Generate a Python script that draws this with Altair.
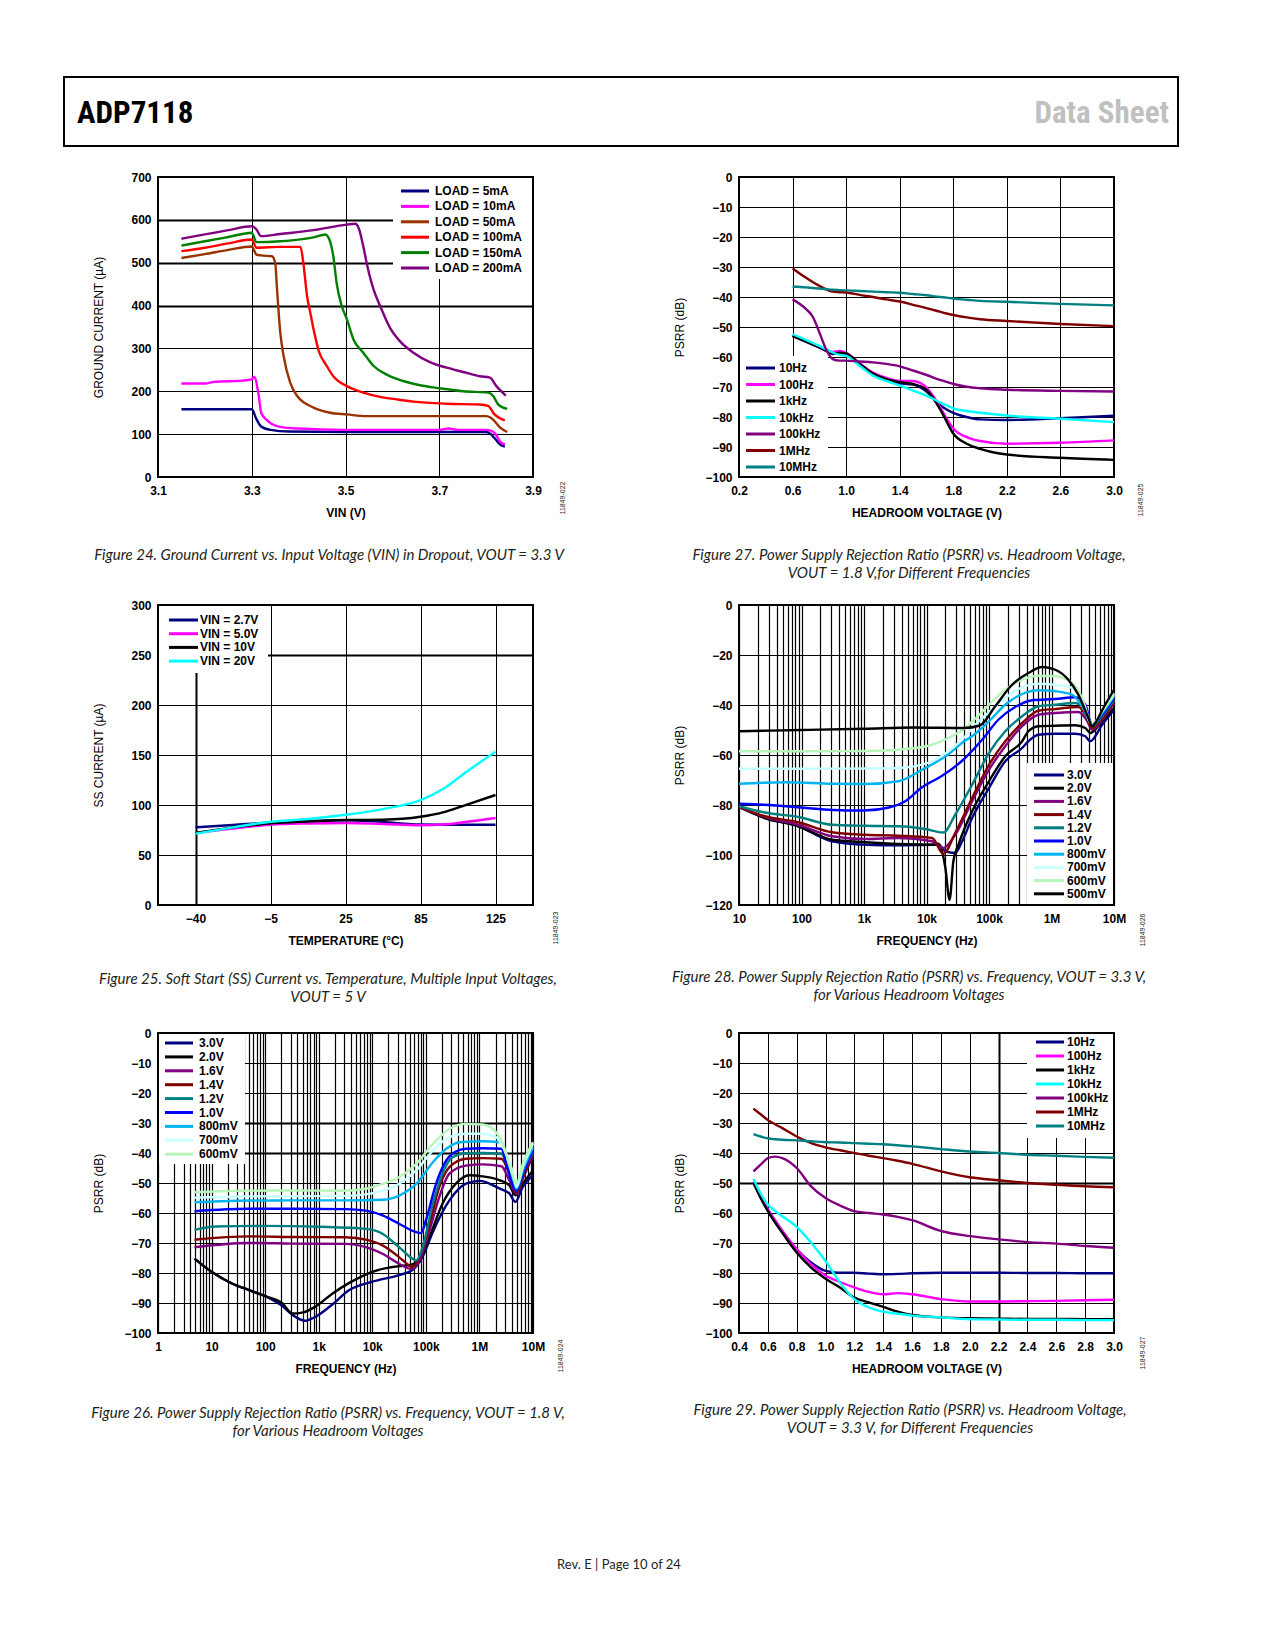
import altair as alt
import pandas as pd

# ======================= DATA =======================
# ---- Figure 24: ground current (uA) vs VIN (V) ----
fig24_series = ["LOAD = 5mA", "LOAD = 10mA", "LOAD = 50mA", "LOAD = 100mA", "LOAD = 150mA", "LOAD = 200mA"]
fig24_xticks = [3.1, 3.3, 3.5, 3.7, 3.9]
fig24_yticks = [0, 100, 200, 300, 400, 500, 600, 700]
load5_vin = [3.15, 3.30, 3.31, 3.32, 3.34, 3.38, 3.50, 3.70, 3.80, 3.81, 3.82, 3.83, 3.84]
load5_ig = [158, 158, 135, 118, 110, 106, 105, 105, 105, 100, 88, 76, 71]
load10_vin = [3.15, 3.20, 3.22, 3.28, 3.30, 3.305, 3.315, 3.32, 3.333, 3.36, 3.40, 3.50, 3.70, 3.72, 3.74, 3.80, 3.81, 3.82, 3.83, 3.84]
load10_ig = [218, 218, 222, 225, 228, 234, 189, 150, 132, 117, 113, 110, 110, 113, 110, 110, 108, 100, 82, 76]
load50_vin = [3.15, 3.20, 3.25, 3.30, 3.31, 3.32, 3.343, 3.35, 3.354, 3.361, 3.368, 3.382, 3.397, 3.432, 3.467, 3.503, 3.545, 3.70, 3.80, 3.815, 3.83, 3.845]
load50_ig = [511, 520, 530, 538, 519, 517, 515, 500, 437, 336, 282, 220, 189, 162, 150, 146, 142, 142, 142, 134, 115, 105]
load100_vin = [3.15, 3.20, 3.25, 3.30, 3.31, 3.36, 3.404, 3.41, 3.418, 3.425, 3.432, 3.443, 3.46, 3.474, 3.503, 3.538, 3.574, 3.61, 3.645, 3.716, 3.787, 3.804, 3.818, 3.84]
load100_ig = [527, 535, 545, 554, 535, 537, 537, 500, 422, 383, 344, 294, 259, 235, 212, 197, 187, 181, 176, 171, 169, 166, 146, 132]
load150_vin = [3.15, 3.20, 3.25, 3.30, 3.31, 3.361, 3.432, 3.457, 3.467, 3.474, 3.481, 3.492, 3.503, 3.517, 3.538, 3.56, 3.588, 3.623, 3.659, 3.701, 3.751, 3.804, 3.815, 3.826, 3.845]
load150_ig = [540, 550, 560, 570, 548, 550, 559, 566, 550, 515, 453, 399, 368, 321, 290, 259, 239, 224, 214, 207, 200, 197, 189, 169, 159]
load200_vin = [3.15, 3.20, 3.25, 3.30, 3.309, 3.32, 3.361, 3.432, 3.503, 3.521, 3.528, 3.538, 3.545, 3.56, 3.574, 3.595, 3.616, 3.645, 3.68, 3.716, 3.751, 3.787, 3.808, 3.822, 3.842]
load200_ig = [556, 566, 576, 585, 579, 562, 567, 576, 589, 591, 581, 538, 500, 437, 399, 348, 317, 290, 268, 255, 245, 235, 232, 212, 190]

# ---- Figure 27: PSRR (dB) vs headroom (V), VOUT = 1.8 V ----
fig27_series = ["10Hz", "100Hz", "1kHz", "10kHz", "100kHz", "1MHz", "10MHz"]
fig27_xticks = [0.2, 0.6, 1.0, 1.4, 1.8, 2.2, 2.6, 3.0]
fig27_headroom = [0.6, 0.7, 0.75, 0.8, 0.85, 0.9, 0.95, 1.0, 1.1, 1.2, 1.3, 1.4, 1.5, 1.6, 1.7, 1.75, 1.8, 1.9, 2.0, 2.2, 2.6, 3.0]
f27_10hz = [-52.9, -54.8, -55.8, -56.8, -57.9, -59.0, -58.6, -59.0, -62.3, -65.7, -67.5, -68.8, -69.2, -71.5, -76.0, -77.5, -78.6, -80.0, -80.8, -81.0, -80.4, -79.6]
f27_100hz = [-52.9, -54.8, -55.8, -56.8, -57.8, -58.3, -58.0, -58.6, -62.0, -65.2, -67.0, -68.0, -68.0, -70.2, -76.5, -80.5, -83.8, -86.7, -88.0, -88.9, -88.6, -87.8]
f27_1khz = [-53.0, -54.9, -55.9, -56.8, -57.9, -58.8, -58.6, -58.8, -62.3, -65.5, -67.4, -68.4, -69.0, -71.0, -77.3, -81.5, -85.5, -88.9, -90.6, -92.5, -93.6, -94.3]
f27_10khz = [-52.4, -54.3, -55.3, -56.3, -57.4, -58.5, -59.3, -59.6, -62.9, -66.2, -68.0, -69.5, -71.2, -72.9, -75.1, -76.1, -77.1, -78.0, -78.6, -79.5, -80.6, -81.7]
f27_100khz = [-40.8, -44.0, -46.5, -51.8, -57.4, -60.7, -61.2, -61.2, -61.5, -61.8, -62.3, -63.1, -64.5, -66.0, -67.6, -68.3, -69.0, -69.9, -70.4, -70.9, -71.3, -71.5]
f27_1mhz = [-30.5, -33.6, -35.0, -36.3, -37.4, -38.2, -38.4, -38.5, -39.3, -40.0, -40.8, -41.5, -42.6, -43.7, -44.9, -45.5, -46.0, -46.8, -47.4, -48.0, -49.0, -49.7]
f27_10mhz = [-36.5, -36.8, -37.0, -37.2, -37.4, -37.6, -37.7, -37.8, -38.0, -38.2, -38.4, -38.6, -39.0, -39.4, -40.0, -40.2, -40.5, -40.9, -41.3, -41.6, -42.3, -42.8]

# ---- Figure 25: SS current (uA) vs temperature ----
fig25_series = ["VIN = 2.7V", "VIN = 5.0V", "VIN = 10V", "VIN = 20V"]
fig25_temps = ["\u221240", "\u22125", "25", "85", "125"]
fig25_pos = [0, 0.5, 1, 1.5, 2, 2.5, 3, 3.3, 3.6, 4]
ss_27 = [77.6, 80.0, 82.5, 84.0, 84.8, 83.0, 80.5, 80.3, 80.3, 80.3]
ss_50 = [72.0, 76.5, 80.2, 81.5, 82.0, 81.0, 79.8, 80.5, 83.0, 87.0]
ss_10 = [72.0, 77.6, 81.6, 83.5, 85.0, 85.3, 88.2, 92.6, 99.9, 110.0]
ss_20 = [71.3, 77.6, 83.2, 86.0, 90.2, 95.9, 104.9, 115.9, 132.5, 153.2]

# ---- Figure 28: PSRR (dB) vs frequency (Hz), VOUT = 3.3 V ----
fig28_series = ["3.0V", "2.0V", "1.6V", "1.4V", "1.2V", "1.0V", "800mV", "700mV", "600mV", "500mV"]
f28_500_hz = [10, 100, 1000, 6300, 40000, 71000, 126000, 234000, 427000, 708000, 1150000, 1860000, 2690000, 3890000, 4470000, 5010000, 6760000, 10000000]
f28_500_db = [-50.5, -50.0, -49.5, -49.0, -49.2, -48.2, -40.5, -31.9, -27.2, -24.8, -25.9, -29.9, -35.9, -45.2, -48.5, -47.2, -41.2, -33.9]
f28_600_hz = [10, 100, 1000, 6600, 12300, 22400, 40000, 63000, 100000, 182000, 339000, 617000, 1150000, 2140000, 3090000, 4470000, 6460000, 10000000]
f28_600_db = [-58.5, -58.5, -58.4, -57.2, -55.9, -53.2, -49.5, -45.0, -39.9, -33.9, -29.9, -28.3, -28.5, -31.2, -37.2, -47.9, -42.5, -35.2]
f28_700_hz = [10, 100, 1000, 3550, 12300, 22400, 40000, 63000, 100000, 182000, 339000, 617000, 1150000, 2140000, 3090000, 4470000, 6460000, 10000000]
f28_700_db = [-65.5, -65.5, -65.4, -65.2, -62.5, -58.5, -53.0, -47.5, -42.8, -37.2, -32.9, -31.5, -31.9, -33.2, -38.5, -47.9, -42.5, -35.9]
f28_800_hz = [10, 55, 316, 1050, 3550, 8500, 22400, 40000, 53700, 100000, 182000, 339000, 617000, 1150000, 2140000, 3090000, 4470000, 6460000, 10000000]
f28_800_db = [-71.5, -70.9, -71.5, -71.6, -70.5, -65.9, -59.7, -54.5, -52.5, -46.5, -39.9, -35.6, -34.1, -34.5, -35.9, -40.5, -47.9, -43.2, -36.5]
f28_1v0_hz = [10, 25, 100, 316, 1000, 2500, 4570, 8500, 17800, 37200, 77600, 141000, 263000, 490000, 1150000, 2400000, 3470000, 4470000, 6460000, 10000000]
f28_1v0_db = [-79.5, -79.9, -81.0, -82.0, -82.2, -81.0, -78.5, -72.9, -68.3, -62.3, -53.9, -45.9, -40.8, -38.1, -37.6, -36.9, -39.9, -47.9, -43.9, -37.2]
f28_1v2_hz = [10, 26, 89, 309, 1050, 3550, 9550, 18600, 28800, 53700, 100000, 182000, 339000, 617000, 1150000, 2400000, 3470000, 4470000, 6460000, 10000000]
f28_1v2_db = [-80.5, -83.0, -84.8, -87.9, -88.3, -88.5, -89.6, -91.0, -83.9, -71.9, -59.2, -50.5, -44.5, -40.5, -39.9, -39.2, -41.9, -48.5, -44.5, -37.9]
f28_1v4_hz = [10, 26, 89, 309, 1050, 3550, 12300, 18600, 28800, 53700, 100000, 182000, 339000, 617000, 1150000, 2690000, 3630000, 4470000, 6460000, 10000000]
f28_1v4_db = [-80.8, -84.5, -86.9, -90.9, -91.9, -92.3, -93.2, -99.5, -91.2, -77.2, -63.9, -54.5, -47.2, -42.3, -41.6, -40.8, -44.5, -49.2, -45.2, -38.5]
f28_1v6_hz = [10, 26, 89, 309, 1050, 3550, 12300, 18600, 28800, 53700, 100000, 182000, 339000, 617000, 1150000, 2690000, 3630000, 4470000, 6460000, 10000000]
f28_1v6_db = [-80.8, -84.8, -87.9, -92.5, -93.6, -93.2, -94.5, -97.2, -91.9, -78.5, -65.9, -56.5, -48.5, -43.9, -43.2, -42.8, -45.9, -49.9, -45.9, -39.2]
f28_2v0_hz = [10, 26, 89, 309, 1050, 3550, 12300, 15500, 20000, 23400, 26900, 32400, 53700, 100000, 182000, 339000, 427000, 617000, 1150000, 2400000, 3470000, 4170000, 6460000, 10000000]
f28_2v0_db = [-80.8, -85.2, -88.5, -93.9, -94.9, -95.6, -95.9, -95.5, -105.0, -117.9, -102.5, -95.9, -82.5, -70.5, -60.5, -54.5, -50.5, -48.5, -48.3, -48.1, -49.2, -51.2, -46.5, -41.2]
f28_3v0_hz = [10, 26, 89, 309, 1050, 3550, 12300, 15500, 20000, 28800, 37200, 53700, 100000, 182000, 339000, 427000, 617000, 1150000, 2400000, 3470000, 4170000, 6460000, 10000000]
f28_3v0_db = [-80.8, -85.2, -88.5, -94.5, -95.9, -96.1, -95.9, -95.9, -98.5, -99.2, -94.5, -85.2, -73.2, -62.5, -57.2, -54.5, -51.9, -51.5, -51.5, -52.5, -54.5, -47.9, -41.9]
fig28_ticks = [10, 100, 1000, 10000, 100000, 1000000, 10000000]
fig28_ticklabels = ["10", "100", "1k", "10k", "100k", "1M", "10M"]

# ---- Figure 26: PSRR (dB) vs frequency (Hz), VOUT = 1.8 V ----
fig26_series = ["3.0V", "2.0V", "1.6V", "1.4V", "1.2V", "1.0V", "800mV", "700mV", "600mV"]
f26_600_hz = [4.8, 32, 316, 3160, 7600, 15500, 31600, 66000, 135000, 275000, 562000, 1150000, 1780000, 2750000, 3890000, 4900000, 6460000, 10000000]
f26_600_db = [-53.1, -52.6, -52.5, -52.6, -51.9, -50.3, -48.1, -43.6, -37.0, -32.0, -30.3, -30.5, -32.0, -37.0, -45.8, -50.3, -43.6, -36.4]
f26_700_hz = [4.8, 32, 316, 3160, 7600, 15500, 31600, 66000, 135000, 275000, 562000, 1150000, 2040000, 2950000, 4270000, 4900000, 6460000, 10000000]
f26_700_db = [-54.9, -54.5, -54.4, -54.3, -53.8, -52.5, -50.3, -45.8, -39.2, -34.7, -33.6, -33.6, -34.7, -39.2, -46.9, -51.4, -44.7, -37.0]
f26_800_hz = [4.8, 32, 316, 3160, 15500, 31600, 66000, 135000, 240000, 427000, 1150000, 2400000, 3160000, 4570000, 4900000, 6460000, 10000000]
f26_800_db = [-56.4, -55.9, -55.8, -55.8, -55.6, -54.2, -50.3, -43.1, -38.6, -36.4, -36.1, -36.4, -40.3, -50.3, -51.9, -45.8, -38.1]
f26_1v0_hz = [4.8, 50, 316, 3160, 7600, 15500, 31600, 66000, 81300, 100000, 155000, 240000, 363000, 562000, 1150000, 2570000, 3160000, 4900000, 6460000, 10000000]
f26_1v0_db = [-59.4, -58.6, -58.6, -58.7, -59.2, -60.8, -63.6, -66.4, -66.7, -62.5, -50.3, -42.5, -39.5, -38.6, -38.4, -38.6, -43.6, -52.5, -46.9, -39.2]
f26_1v2_hz = [4.8, 11.7, 100, 1000, 7600, 15500, 31600, 56200, 66000, 87000, 135000, 204000, 316000, 562000, 1150000, 2570000, 3390000, 4900000, 6460000, 10000000]
f26_1v2_db = [-65.6, -64.5, -64.3, -64.6, -65.3, -66.9, -71.4, -75.2, -75.8, -71.4, -56.9, -46.9, -41.4, -40.1, -40.0, -40.3, -44.7, -52.5, -46.9, -39.7]
f26_1v4_hz = [4.8, 50, 316, 3160, 7600, 15500, 31600, 49000, 56200, 75900, 117000, 178000, 275000, 562000, 1150000, 2570000, 3630000, 4900000, 6460000, 10000000]
f26_1v4_db = [-68.9, -67.8, -68.0, -68.1, -68.9, -70.8, -74.7, -77.5, -78.0, -74.7, -63.6, -51.4, -44.7, -41.9, -41.7, -41.9, -46.9, -53.1, -48.1, -40.3]
f26_1v6_hz = [4.8, 50, 316, 3160, 7600, 15500, 31600, 52500, 75900, 117000, 178000, 275000, 562000, 1150000, 2570000, 3630000, 4900000, 6460000, 10000000]
f26_1v6_db = [-71.4, -70.0, -70.2, -70.3, -71.4, -73.6, -76.9, -78.6, -75.8, -65.8, -54.7, -46.9, -44.2, -43.8, -44.4, -49.2, -53.6, -48.6, -40.8]
f26_2v0_hz = [4.8, 10, 24, 50, 100, 209, 324, 490, 871, 1820, 3720, 10000, 31600, 49000, 75900, 117000, 204000, 363000, 646000, 1150000, 2400000, 3630000, 4680000, 6460000, 10000000]
f26_2v0_db = [-75.2, -79.6, -83.5, -85.7, -87.7, -90.1, -93.5, -93.2, -91.2, -86.8, -83.3, -79.6, -77.7, -77.4, -75.7, -68.0, -56.9, -50.2, -47.4, -47.8, -49.1, -50.8, -54.1, -50.2, -45.8]
f26_3v0_hz = [4.8, 10, 24, 50, 100, 209, 324, 550, 871, 1820, 3720, 10000, 31600, 56200, 87000, 135000, 275000, 562000, 1000000, 2400000, 3630000, 4680000, 6460000, 10000000]
f26_3v0_db = [-75.2, -79.6, -83.5, -85.7, -87.7, -91.0, -94.0, -95.9, -94.6, -90.4, -85.7, -82.9, -80.7, -79.0, -74.6, -66.3, -55.8, -50.2, -49.3, -51.9, -53.5, -56.3, -51.3, -47.4]
fig26_ticks = [1, 10, 100, 1000, 10000, 100000, 1000000, 10000000]
fig26_ticklabels = ["1", "10", "100", "1k", "10k", "100k", "1M", "10M"]

# ---- Figure 29: PSRR (dB) vs headroom (V), VOUT = 3.3 V ----
fig29_series = ["10Hz", "100Hz", "1kHz", "10kHz", "100kHz", "1MHz", "10MHz"]
fig29_xticks = [0.4, 0.6, 0.8, 1.0, 1.2, 1.4, 1.6, 1.8, 2.0, 2.2, 2.4, 2.6, 2.8, 3.0]
fig29_headroom = [0.5, 0.55, 0.6, 0.65, 0.7, 0.8, 0.9, 1.0, 1.1, 1.2, 1.3, 1.4, 1.5, 1.6, 1.8, 2.0, 2.2, 2.4, 2.6, 2.8, 3.0]
f29_10hz = [-49.8, -54.5, -58.8, -62.5, -66.0, -72.1, -76.5, -79.3, -79.9, -79.9, -80.2, -80.4, -80.3, -80.1, -79.9, -79.9, -79.9, -80.0, -80.0, -80.1, -80.1]
f29_100hz = [-49.8, -54.5, -58.8, -62.5, -66.0, -72.1, -77.1, -80.8, -83.0, -84.8, -86.3, -87.1, -86.7, -87.1, -88.7, -89.5, -89.5, -89.4, -89.3, -89.1, -88.9]
f29_1khz = [-49.8, -55.0, -59.4, -63.2, -66.6, -73.2, -78.2, -81.9, -84.8, -88.2, -89.8, -91.3, -92.9, -94.0, -94.8, -95.1, -95.2, -95.3, -95.3, -95.4, -95.4]
f29_10khz = [-48.7, -53.5, -57.2, -59.3, -61.1, -64.6, -69.9, -76.0, -83.2, -88.7, -91.5, -92.9, -93.6, -94.2, -94.8, -95.4, -95.5, -95.6, -95.6, -95.7, -95.7]
f29_100khz = [-46.1, -43.9, -41.7, -41.2, -41.7, -45.0, -51.1, -55.0, -57.5, -59.4, -60.0, -60.5, -61.3, -62.4, -66.0, -67.7, -68.8, -69.7, -70.2, -71.0, -71.6]
f29_1mhz = [-25.2, -27.1, -29.0, -30.4, -31.7, -34.5, -36.7, -38.1, -39.1, -40.0, -40.9, -41.7, -42.6, -43.6, -46.1, -48.1, -49.1, -50.0, -50.6, -51.1, -51.4]
f29_10mhz = [-33.7, -34.5, -35.1, -35.4, -35.6, -35.8, -36.1, -36.4, -36.5, -36.7, -36.9, -37.1, -37.4, -37.8, -38.7, -39.5, -40.0, -40.6, -40.9, -41.3, -41.6]

# ---- texts ----
captions = {
    24: "Figure 24. Ground Current vs. Input Voltage (VIN) in Dropout, VOUT = 3.3 V",
    27: "Figure 27. Power Supply Rejection Ratio (PSRR) vs. Headroom Voltage,\nVOUT = 1.8 V,for Different Frequencies",
    25: "Figure 25. Soft Start (SS) Current vs. Temperature, Multiple Input Voltages,\nVOUT = 5 V",
    28: "Figure 28. Power Supply Rejection Ratio (PSRR) vs. Frequency, VOUT = 3.3 V,\nfor Various Headroom Voltages",
    26: "Figure 26. Power Supply Rejection Ratio (PSRR) vs. Frequency, VOUT = 1.8 V,\nfor Various Headroom Voltages",
    29: "Figure 29. Power Supply Rejection Ratio (PSRR) vs. Headroom Voltage,\nVOUT = 3.3 V, for Different Frequencies",
}
fig_ids = {24: "11849-022", 27: "11849-025", 25: "11849-023", 28: "11849-026", 26: "11849-024", 29: "11849-027"}
header_left = "ADP7118"
header_right = "Data Sheet"
footer_text = "Rev. E | Page 10 of 24"

# ======================= STYLE / LAYOUT =======================
FONT = "Liberation Sans, Arial, Helvetica, sans-serif"
CAP_FONT = "Lato, Open Sans, sans-serif"
NARROW = "Roboto Condensed, Roboto, sans-serif"
W, H = 375, 300

c_fig24 = ["#000080", "#ff00ff", "#993300", "#ff0000", "#008000", "#800080"]
c_freq = ["#000080", "#ff00ff", "#000000", "#00ffff", "#800080", "#800000", "#008080"]
c_vin = ["#000080", "#ff00ff", "#000000", "#00ffff"]
c_head = ["#000080", "#000000", "#800080", "#800000", "#008080", "#0000ff", "#00b4f0", "#c8ffff", "#b8f5b8", "#000000"]


def to_long(names, xs, ys):
    recs = []
    for n, xv, yv in zip(names, xs, ys):
        assert len(xv) == len(yv), n
        recs += [{"series": n, "x": a, "y": b} for a, b in zip(xv, yv)]
    return pd.DataFrame(recs)


def one(t):
    return pd.DataFrame({"t": [t]})


def heavy(vals):
    test = " || ".join("datum.value == %s" % v for v in vals)
    return {"condition": {"test": test, "value": 2}, "value": 1}


def panel(df, names, colors, X, ysc, yax, ydom, leg, notes):
    col = alt.Color("series:N", scale=alt.Scale(domain=names, range=colors), legend=None)
    Y = alt.Y("y:Q", scale=ysc, axis=yax)
    bx0, bx1, by0, by1, sx0, sx1, lx, r0, dy = leg
    ymin, ymax = ydom
    ly = [ymax - (r0 + i * dy) * (ymax - ymin) / H for i in range(len(names))]
    ldf = pd.DataFrame({"series": names, "y": ly})
    layers = [
        alt.Chart(one("")).mark_rect(fill="white").encode(
            x=alt.value(bx0), x2=alt.value(bx1), y=alt.value(by0), y2=alt.value(by1)),
        alt.Chart(df).mark_line(strokeWidth=2.4, interpolate="monotone").encode(x=X, y=Y, color=col),
        alt.Chart(ldf).mark_rule(strokeWidth=3).encode(
            x=alt.value(sx0), x2=alt.value(sx1), y=Y, color=col),
        alt.Chart(ldf).mark_text(align="left", baseline="middle", font=FONT, fontSize=12,
                                 fontWeight="bold", color="black").encode(
            x=alt.value(lx), y=Y, text="series:N"),
    ]
    for kind, txt, x, y, props in notes:
        if kind == "text":
            layers.append(alt.Chart(one(txt)).mark_text(**props).encode(
                x=alt.value(x), y=alt.value(y), text="t:N"))
        else:
            x2, y2 = props
            layers.append(alt.Chart(one(txt)).mark_rect(fill="white", fillOpacity=0, stroke="black",
                                                          strokeWidth=2).encode(
                x=alt.value(x), x2=alt.value(x2), y=alt.value(y), y2=alt.value(y2)))
    return alt.layer(*layers).properties(width=W, height=H)


cap_props = dict(font=CAP_FONT, fontSize=15, fontStyle="italic", color="#231f20",
                 align="center", baseline="middle", lineBreak="\n", lineHeight=18)
id_props = dict(font=FONT, fontSize=7, angle=270, align="center", baseline="middle", color="#231f20")


def lin_axis(vals, fmt, title, **kw):
    return alt.Axis(values=vals, format=fmt, title=title,
                    labelExpr="replace(datum.label, '-', '\u2212')", **kw)


def log_axis(ticks, labels, lo_exp, hi_exp, title):
    vals = [k * 10 ** e for e in range(lo_exp, hi_exp) for k in range(1, 10)] + [10 ** hi_exp]
    expr = "".join("datum.value == %s ? '%s' : " % (v, l) for v, l in zip(ticks, labels)) + "''"
    return alt.Axis(values=vals, labelExpr=expr, title=title, gridWidth=1.2)


ps = lin_axis(list(range(-100, 1, 10)), "d", "PSRR (dB)")

# ---- panel 1: Fig 24 ----
df24 = to_long(fig24_series,
               [load5_vin, load10_vin, load50_vin, load100_vin, load150_vin, load200_vin],
               [load5_ig, load10_ig, load50_ig, load100_ig, load150_ig, load200_ig])
p24 = panel(df24, fig24_series, c_fig24,
            alt.X("x:Q", scale=alt.Scale(domain=[3.1, 3.9], nice=False, zero=False),
                  axis=alt.Axis(values=fig24_xticks, format=".1f", title="VIN (V)")),
            alt.Scale(domain=[0, 700], nice=False),
            alt.Axis(values=fig24_yticks, format="d", title="GROUND CURRENT (\u00b5A)",
                     gridWidth=heavy([400, 500, 600])),
            (0, 700), (235, 374, 1, 102, 243, 271, 277, 14, 15.4),
            [("box", "", -94, -100, (1020, -31)),
             ("text", header_left, -81, -54, dict(font=NARROW, fontSize=31, fontWeight="bold",
                                                    color="black", align="left", baseline="alphabetic")),
             ("text", header_right, 1011, -54, dict(font=NARROW, fontSize=31, fontWeight="bold",
                                                     color="#c0c0c0", align="right", baseline="alphabetic")),
             ("text", captions[24], 171, 378, cap_props),
             ("text", fig_ids[24], 405, 321, id_props)])

# ---- panel 2: Fig 27 ----
df27 = to_long(fig27_series, [fig27_headroom] * 7,
               [f27_10hz, f27_100hz, f27_1khz, f27_10khz, f27_100khz, f27_1mhz, f27_10mhz])
p27 = panel(df27, fig27_series, c_freq,
            alt.X("x:Q", scale=alt.Scale(domain=[0.2, 3.0], nice=False, zero=False),
                  axis=alt.Axis(values=fig27_xticks, format=".1f", title="HEADROOM VOLTAGE (V)")),
            alt.Scale(domain=[-100, 0], nice=False), ps,
            (-100, 0), (1, 89, 179, 299, 7, 36, 40, 191, 16.5),
            [("text", captions[27], 170, 378, cap_props),
             ("text", fig_ids[27], 402, 323, id_props)])

# ---- panel 3: Fig 25 ----
df25 = to_long(fig25_series, [fig25_pos] * 4, [ss_27, ss_50, ss_10, ss_20])
temp_expr = "[" + ",".join("'%s'" % t for t in fig25_temps) + "][datum.value]"
p25 = panel(df25, fig25_series, c_vin,
            alt.X("x:Q", scale=alt.Scale(domain=[-0.5, 4.5], nice=False, zero=False),
                  axis=alt.Axis(values=list(range(len(fig25_temps))), labelExpr=temp_expr,
                                title="TEMPERATURE (\u00b0C)", gridWidth=heavy([0]))),
            alt.Scale(domain=[0, 300], nice=False),
            alt.Axis(values=list(range(0, 301, 50)), format="d", title="SS CURRENT (\u00b5A)",
                     gridWidth=heavy([250])),
            (0, 300), (1, 110, 1, 68, 11, 40, 42, 15, 13.7),
            [("text", captions[25], 170, 374, cap_props),
             ("text", fig_ids[25], 398, 323, id_props)])

# ---- panel 4: Fig 28 ----
df28 = to_long(fig28_series,
               [f28_3v0_hz, f28_2v0_hz, f28_1v6_hz, f28_1v4_hz, f28_1v2_hz, f28_1v0_hz,
                f28_800_hz, f28_700_hz, f28_600_hz, f28_500_hz],
               [f28_3v0_db, f28_2v0_db, f28_1v6_db, f28_1v4_db, f28_1v2_db, f28_1v0_db,
                f28_800_db, f28_700_db, f28_600_db, f28_500_db])
p28 = panel(df28, fig28_series, c_head,
            alt.X("x:Q", scale=alt.Scale(type="log", domain=[10, 1e7], nice=False),
                  axis=log_axis(fig28_ticks, fig28_ticklabels, 1, 7, "FREQUENCY (Hz)")),
            alt.Scale(domain=[-120, 0], nice=False),
            lin_axis(list(range(-120, 1, 20)), "d", "PSRR (dB)"),
            (-120, 0), (288, 374, 158, 299, 295, 325, 328, 170, 13.2),
            [("text", captions[28], 170, 372, cap_props),
             ("text", fig_ids[28], 404, 325, id_props)])

# ---- panel 5: Fig 26 ----
df26 = to_long(fig26_series,
               [f26_3v0_hz, f26_2v0_hz, f26_1v6_hz, f26_1v4_hz, f26_1v2_hz, f26_1v0_hz,
                f26_800_hz, f26_700_hz, f26_600_hz],
               [f26_3v0_db, f26_2v0_db, f26_1v6_db, f26_1v4_db, f26_1v2_db, f26_1v0_db,
                f26_800_db, f26_700_db, f26_600_db])
p26 = panel(df26, fig26_series, c_head[:9],
            alt.X("x:Q", scale=alt.Scale(type="log", domain=[1, 1e7], nice=False),
                  axis=log_axis(fig26_ticks, fig26_ticklabels, 0, 7, "FREQUENCY (Hz)")),
            alt.Scale(domain=[-100, 0], nice=False),
            lin_axis(list(range(-100, 1, 10)), "d", "PSRR (dB)", gridWidth=heavy([-30, -40])),
            (-100, 0), (1, 87, 1, 131, 7, 35, 41, 10, 13.9),
            [("text", captions[26], 170, 380, cap_props),
             ("text", fig_ids[26], 403, 323, id_props),
             ("text", footer_text, 461, 532, dict(font=CAP_FONT, fontSize=13, color="#231f20",
                                                  align="center", baseline="middle"))])

# ---- panel 6: Fig 29 ----
df29 = to_long(fig29_series, [fig29_headroom] * 7,
               [f29_10hz, f29_100hz, f29_1khz, f29_10khz, f29_100khz, f29_1mhz, f29_10mhz])
p29 = panel(df29, fig29_series, c_freq,
            alt.X("x:Q", scale=alt.Scale(domain=[0.4, 3.0], nice=False, zero=False),
                  axis=alt.Axis(values=fig29_xticks, format=".1f", title="HEADROOM VOLTAGE (V)",
                                gridWidth=heavy([2.2]))),
            alt.Scale(domain=[-100, 0], nice=False),
            lin_axis(list(range(-100, 1, 10)), "d", "PSRR (dB)", gridWidth=heavy([-50])),
            (-100, 0), (288, 374, 1, 105, 297, 325, 328, 9, 14),
            [("text", captions[29], 171, 377, cap_props),
             ("text", fig_ids[29], 404, 320, id_props)])

chart = alt.concat(p24, p27, p25, p28, p26, p29, columns=2,
                   spacing={"row": 128, "column": 206}, bounds="flush").resolve_scale(
    color="independent", x="independent", y="independent"
).properties(
    padding={"left": 54, "top": 67, "right": 20, "bottom": 20},
    background="white",
).configure_view(
    stroke="black", strokeWidth=2
).configure_axis(
    labelFont=FONT, labelFontSize=12, labelFontWeight="bold", labelColor="black",
    titleFont=FONT, titleFontSize=12, titleColor="black", titleFontWeight="normal",
    grid=True, gridColor="black", gridOpacity=1, gridWidth=1,
    domain=False, ticks=False, labelFlush=False, labelOverlap=False, zindex=0,
).configure_axisX(
    labelPadding=8, titleFontWeight="bold", titleX=187.5, titleY=35,
    titleAlign="center", titleBaseline="middle",
).configure_axisY(
    labelPadding=7, titleX=-60, titleY=150, titleAngle=270,
    titleAlign="center", titleBaseline="middle",
)

chart.save("out.html", embed_options={"renderer": "svg", "actions": False})
